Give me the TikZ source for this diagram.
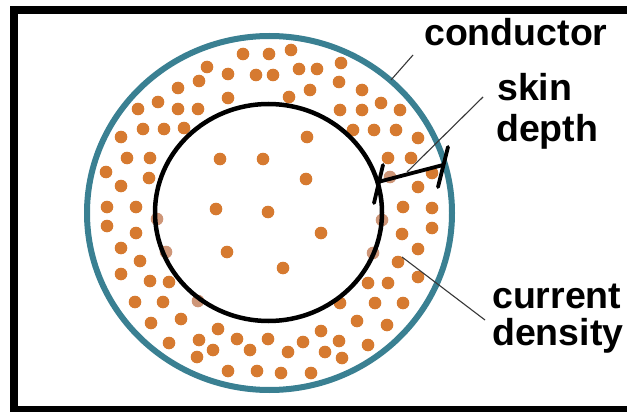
\documentclass[tikz,border=0pt]{standalone}
\usepackage{fontspec}
\setmainfont{Liberation Sans}
\usetikzlibrary{arrows.meta}
\definecolor{tealc}{RGB}{58,128,146}
\definecolor{dotc}{RGB}{214,122,48}
\definecolor{fadec}{RGB}{206,150,120}
\definecolor{leadc}{RGB}{55,55,55}
\begin{document}
\begin{tikzpicture}[x=1pt,y=-1pt,
  lbl/.style={font=\fontsize{37.5}{37.5}\selectfont\bfseries, anchor=base west, inner sep=0pt},
  lead/.style={draw=leadc, line width=1.1pt},
  sdline/.style={draw=black, line width=3.8pt, line cap=round},
]
\useasboundingbox (0,0) rectangle (627,412);
\fill[white] (0,0) rectangle (627,412);
\draw[line width=8pt] (14,10.5) rectangle (640,410);
% current dots
\foreach \x/\y in {243/54,269/54,291/50,207/67,228/74,256/75,273/75,299/69,317/69,341/63,
  199/81,178/88,228/98,289/97,310/90,339/82,362/90,158/102,138/109,178/109,198/109,
  340/110,362/110,381/103,400/110,121/137,143/129,164/129,184/128,353/130,374/130,
  396/130,418/138,307/137,127/158,150/158,220/159,263/159,388/158,411/158,106/172,
  149/178,306/179,432/173,121/186,418/187,
  107/207,136/207,216/209,268/212,403/207,432/208,107/226,136/233,321/233,402/234,432/228,
  121/248,140/261,227/252,283/268,418/249,398/262,418/277,121/274,150/281,169/282,
  368/283,388/283,135/302,163/302,340/303,375/303,403/303,151/323,181/319,357/321,
  387/325,218/329,321/331,169/343,199/340,237/339,268/339,303/342,339/341,368/345,
  213/350,197/357,250/350,288/352,325/352,342/358,228/371,257/371,281/373,311/373}
  \fill[dotc] (\x,\y) circle[radius=6.3pt];
\foreach \x/\y in {390/177,157/219,382/220,166/252,373/253,198/301}
  \fill[fadec] (\x,\y) circle[radius=6.3pt];
% skin boundary and conductor
\draw[line width=4.5pt] (268.5,212.5) ellipse[x radius=113.5pt, y radius=108.5pt];
\draw[tealc, line width=6pt] (269.5,213) ellipse[x radius=182.5pt, y radius=177pt];
% skin depth marker
\coordinate (sdA) at (378,182);
\coordinate (sdB) at (443,165);
\coordinate (sdAt) at (383,165);
\coordinate (sdAb) at (374,203);
\coordinate (sdBt) at (448,147);
\coordinate (sdBb) at (438,187);
\draw[sdline] (sdA) -- (sdB);
\draw[sdline] (sdAt) -- (sdAb);
\draw[sdline] (sdBt) -- (sdBb);
% labels
\node[lbl] (conductor) at (424,46) {conductor};
\node[lbl] (skin) at (497,100) {skin};
\node[lbl] (depth) at (496,142) {depth};
\node[lbl] (current) at (492,308) {current};
\node[lbl] (density) at (492,345) {density};
% leaders
\coordinate (lc1) at (413,55);
\coordinate (lc2) at (391,80);
\coordinate (ls1) at (483,97);
\coordinate (ls2) at (407,172);
\coordinate (ld1) at (485,320);
\coordinate (ld2) at (402,257);
\draw[lead] (lc1) -- (lc2);
\draw[lead] (ls1) -- (ls2);
\draw[lead] (ld1) -- (ld2);
\end{tikzpicture}
\end{document}
